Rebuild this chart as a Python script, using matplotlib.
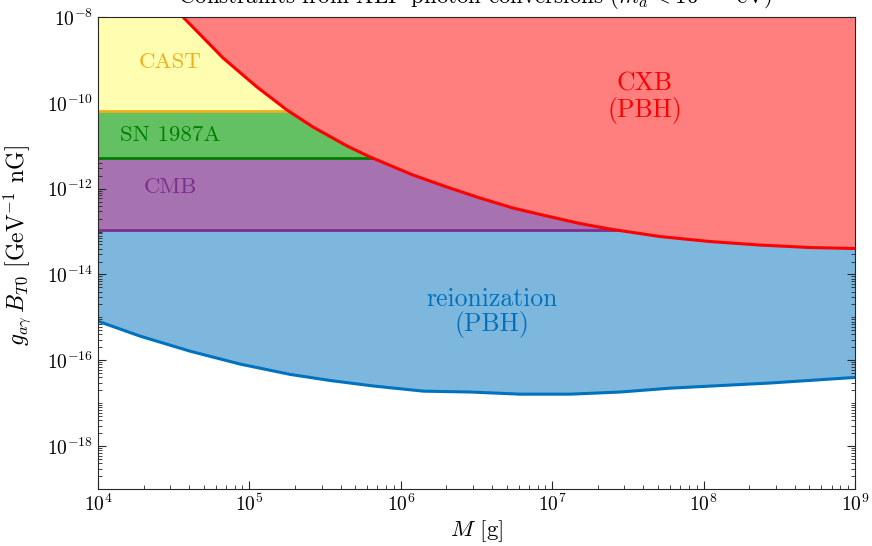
import numpy as np
import matplotlib
matplotlib.use("Agg")
import matplotlib.pyplot as plt
from matplotlib.ticker import FixedLocator, LogLocator, NullFormatter

plt.rcParams['font.family'] = 'serif'
plt.rcParams['font.serif'] = ['cmr10', 'DejaVu Serif']
plt.rcParams['mathtext.fontset'] = 'cm'
plt.rcParams['axes.formatter.use_mathtext'] = True
plt.rcParams['font.size'] = 13

# x-axis: PBH mass M [g]; y-axis: g_{a gamma} B_T0 [GeV^-1 nG]
x_lo, x_hi = 1e4, 1e9
y_lo, y_hi = 1e-19, 1e-8

# horizontal bounds
cast_limit = 6.6e-11
sn1987a_limit = 5.3e-12
cmb_limit = 1.1e-13

# CXB (PBH) curve (log10 values)
cxb_logM = [4.561, 4.826, 5.050, 5.248, 5.420, 5.645, 5.797, 6.081, 6.305, 6.523,
            6.741, 6.966, 7.184, 7.382, 7.712, 8.042, 8.373, 8.703, 9.0]
cxb_logg = [-8.0, -8.956, -9.632, -10.168, -10.564, -11.007, -11.263, -11.683,
            -11.963, -12.219, -12.452, -12.639, -12.814, -12.942, -13.117,
            -13.233, -13.315, -13.373, -13.396]

# reionization (PBH) curve
reion_logM = [4.0, 4.28, 4.61, 4.94, 5.27, 5.53, 5.82, 6.15, 6.46, 6.79, 7.12,
              7.45, 7.78, 8.44, 9.0]
reion_logg = [-15.09, -15.44, -15.79, -16.09, -16.33, -16.47, -16.60, -16.72,
              -16.74, -16.79, -16.79, -16.74, -16.65, -16.53, -16.40]

cxb_M = 10 ** np.array(cxb_logM)
cxb_g = 10 ** np.array(cxb_logg)
reion_M = 10 ** np.array(reion_logM)
reion_g = 10 ** np.array(reion_logg)

fig = plt.figure(figsize=(8.72, 5.46), dpi=100)
ax = fig.add_axes([0.1124, 0.1044, 0.8681, 0.8645])

# fills, bottom to top
ax.fill_between(reion_M, reion_g, y_hi, color='#7DB7DD', lw=0, zorder=1)
ax.fill_between([x_lo, x_hi], cmb_limit, y_hi, color='#A673B0', lw=0, zorder=2)
ax.fill_between([x_lo, x_hi], sn1987a_limit, y_hi, color='#63C163', lw=0, zorder=3)
ax.fill_between([x_lo, x_hi], cast_limit, y_hi, color='#FFFDB0', lw=0, zorder=4)
ax.plot([x_lo, x_hi], [cmb_limit] * 2, color='#7E2F8E', lw=2, zorder=2.5)
ax.plot([x_lo, x_hi], [sn1987a_limit] * 2, color='#008000', lw=2, zorder=3.5)
ax.plot([x_lo, x_hi], [cast_limit] * 2, color='#EDB120', lw=2, zorder=4.5)
ax.fill_between(cxb_M, cxb_g, y_hi, color='#FF7F7F', lw=0, zorder=5)
ax.plot(cxb_M, cxb_g, color='#FF0000', lw=2.2, zorder=6)
ax.plot(reion_M, reion_g, color='#0072BD', lw=2.2, zorder=6)

ax.set_xscale('log')
ax.set_yscale('log')
ax.set_xlim(x_lo, x_hi)
ax.set_ylim(y_lo, y_hi)

ax.yaxis.set_major_locator(FixedLocator([1e-18, 1e-16, 1e-14, 1e-12, 1e-10, 1e-8]))
ax.yaxis.set_minor_locator(LogLocator(base=10, subs=np.arange(1, 10), numticks=30))
ax.yaxis.set_minor_formatter(NullFormatter())
ax.xaxis.set_minor_locator(LogLocator(base=10, subs=np.arange(2, 10), numticks=30))
ax.xaxis.set_minor_formatter(NullFormatter())
ax.tick_params(which='both', direction='in', top=True, right=True,
               color='#262626', labelsize=14)
ax.tick_params(which='major', length=6)
ax.tick_params(which='minor', length=3)
for s in ax.spines.values():
    s.set_color('#262626')
    s.set_linewidth(0.8)
    s.set_zorder(10)
ax.set_axisbelow(False)

ax.text(3.0e4, 8.9e-10, 'CAST', color='#EDB120', ha='center', va='center', fontsize=16.5, zorder=7)
ax.text(3.0e4, 1.8e-11, 'SN 1987A', color='#008000', ha='center', va='center', fontsize=16.5, zorder=7)
ax.text(3.0e4, 1.05e-12, 'CMB', color='#7E2F8E', ha='center', va='center', fontsize=16.5, zorder=7)
ax.text(4.1e7, 1.3e-10, 'CXB\n(PBH)', color='#FF0000', ha='center', va='center',
        fontsize=18.5, linespacing=1.05, zorder=7)
ax.text(4.0e6, 1.3e-15, 'reionization\n(PBH)', color='#0072BD', ha='center', va='center',
        fontsize=18.5, linespacing=1.0, zorder=7)

ax.set_xlabel('$M$ [g]', fontsize=16.5, labelpad=2)
ax.set_ylabel(r'$g_{a\gamma}\,B_{T0}$ [GeV$^{-1}$ nG]', fontsize=17)
ax.yaxis.set_label_coords(-0.086, 0.515)
fig.text(0.545, 0.991, r'Constraints from ALP-photon conversions ($m_a < 10^{-14}$ eV)',
         ha='center', va='baseline', fontsize=16.5)

fig.savefig('out.png', dpi=100)
